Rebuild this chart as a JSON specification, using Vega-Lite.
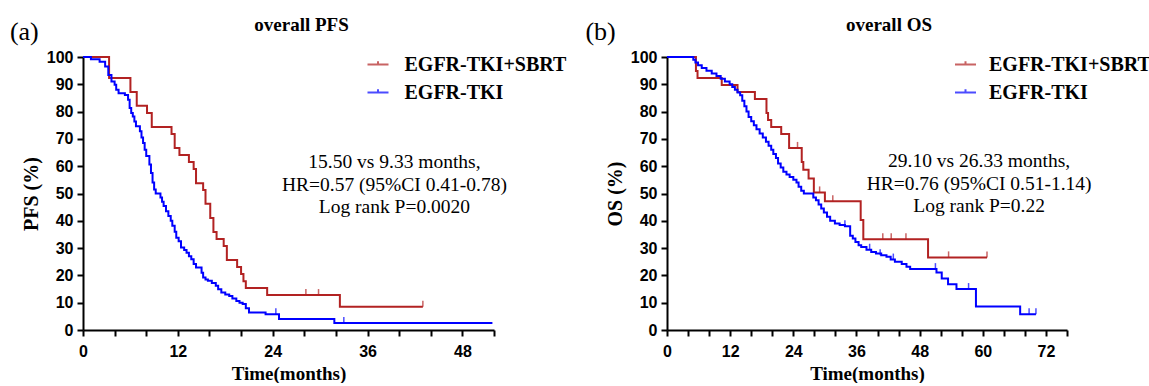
{
  "$schema": "https://vega.github.io/schema/vega-lite/v6.json",
  "background": "white",
  "padding": {"left": 9, "top": 15, "right": 0, "bottom": 0},
  "bounds": "flush",
  "spacing": 173,
  "config": {
    "view": {"stroke": null},
    "axis": {
      "grid": false,
      "domainColor": "black", "domainWidth": 2,
      "tickColor": "black", "tickWidth": 2, "tickSize": 6,
      "labelFont": "Liberation Sans", "labelFontWeight": "bold", "labelFontSize": 16, "labelColor": "black",
      "labelOverlap": false,
      "titleFont": "Liberation Serif", "titleFontWeight": "bold", "titleFontSize": 20, "titleColor": "black"
    },
    "axisX": {"labelPadding": 7, "titlePadding": 5, "titleFontSize": 19, "labelFlush": false},
    "axisY": {"labelPadding": 4, "titlePadding": 5},
    "title": {"font": "Liberation Serif", "fontWeight": "bold", "fontSize": 19, "color": "black", "frame": "group", "baseline": "alphabetic", "offset": -16},
    "legend": {
      "orient": "none", "title": null, "padding": 0,
      "symbolType": "M-1,0H1M0,0V-0.3", "symbolSize": 441, "symbolStrokeWidth": 2,
      "labelFont": "Liberation Serif", "labelFontWeight": "bold", "labelFontSize": 20, "labelColor": "black",
      "rowPadding": 6, "labelLimit": 400
    }
  },
  "datasets": {
    "pfs": [
      {"g": "EGFR-TKI+SBRT", "t": 0, "s": 100},
      {"g": "EGFR-TKI+SBRT", "t": 3.3, "s": 92.3},
      {"g": "EGFR-TKI+SBRT", "t": 6.0, "s": 87.2},
      {"g": "EGFR-TKI+SBRT", "t": 6.8, "s": 82.1},
      {"g": "EGFR-TKI+SBRT", "t": 8.1, "s": 79.5},
      {"g": "EGFR-TKI+SBRT", "t": 8.7, "s": 74.4},
      {"g": "EGFR-TKI+SBRT", "t": 11.2, "s": 71.8},
      {"g": "EGFR-TKI+SBRT", "t": 11.6, "s": 66.7},
      {"g": "EGFR-TKI+SBRT", "t": 12.2, "s": 64.1},
      {"g": "EGFR-TKI+SBRT", "t": 13.4, "s": 61.5},
      {"g": "EGFR-TKI+SBRT", "t": 14.0, "s": 59.0},
      {"g": "EGFR-TKI+SBRT", "t": 14.3, "s": 53.8},
      {"g": "EGFR-TKI+SBRT", "t": 15.2, "s": 51.3},
      {"g": "EGFR-TKI+SBRT", "t": 15.5, "s": 46.2},
      {"g": "EGFR-TKI+SBRT", "t": 16.1, "s": 41.0},
      {"g": "EGFR-TKI+SBRT", "t": 16.5, "s": 35.9},
      {"g": "EGFR-TKI+SBRT", "t": 16.9, "s": 33.3},
      {"g": "EGFR-TKI+SBRT", "t": 17.8, "s": 30.8},
      {"g": "EGFR-TKI+SBRT", "t": 18.2, "s": 25.6},
      {"g": "EGFR-TKI+SBRT", "t": 19.5, "s": 23.1},
      {"g": "EGFR-TKI+SBRT", "t": 20.0, "s": 20.5},
      {"g": "EGFR-TKI+SBRT", "t": 20.3, "s": 17.9},
      {"g": "EGFR-TKI+SBRT", "t": 20.6, "s": 15.4},
      {"g": "EGFR-TKI+SBRT", "t": 23.3, "s": 12.8},
      {"g": "EGFR-TKI+SBRT", "t": 32.5, "s": 8.5},
      {"g": "EGFR-TKI+SBRT", "t": 43.0, "s": 8.5},
      {"g": "EGFR-TKI", "t": 0, "s": 100},
      {"g": "EGFR-TKI", "t": 1.0, "s": 99.2},
      {"g": "EGFR-TKI", "t": 2.1, "s": 98.3},
      {"g": "EGFR-TKI", "t": 2.8, "s": 96.5},
      {"g": "EGFR-TKI", "t": 3.2, "s": 93.4},
      {"g": "EGFR-TKI", "t": 3.6, "s": 91.0},
      {"g": "EGFR-TKI", "t": 4.0, "s": 89.8},
      {"g": "EGFR-TKI", "t": 4.2, "s": 88.0},
      {"g": "EGFR-TKI", "t": 4.5, "s": 86.7},
      {"g": "EGFR-TKI", "t": 5.3, "s": 86.1},
      {"g": "EGFR-TKI", "t": 5.7, "s": 84.3},
      {"g": "EGFR-TKI", "t": 5.9, "s": 81.3},
      {"g": "EGFR-TKI", "t": 6.1, "s": 79.5},
      {"g": "EGFR-TKI", "t": 6.3, "s": 78.2},
      {"g": "EGFR-TKI", "t": 6.5, "s": 76.4},
      {"g": "EGFR-TKI", "t": 6.7, "s": 74.6},
      {"g": "EGFR-TKI", "t": 7.2, "s": 72.8},
      {"g": "EGFR-TKI", "t": 7.4, "s": 70.5},
      {"g": "EGFR-TKI", "t": 7.6, "s": 68.5},
      {"g": "EGFR-TKI", "t": 7.8, "s": 66.0},
      {"g": "EGFR-TKI", "t": 8.0, "s": 63.7},
      {"g": "EGFR-TKI", "t": 8.4, "s": 60.6},
      {"g": "EGFR-TKI", "t": 8.6, "s": 57.5},
      {"g": "EGFR-TKI", "t": 8.8, "s": 54.0},
      {"g": "EGFR-TKI", "t": 9.0, "s": 51.5},
      {"g": "EGFR-TKI", "t": 9.2, "s": 50.0},
      {"g": "EGFR-TKI", "t": 9.8, "s": 48.5},
      {"g": "EGFR-TKI", "t": 10.0, "s": 47.0},
      {"g": "EGFR-TKI", "t": 10.2, "s": 45.4},
      {"g": "EGFR-TKI", "t": 10.5, "s": 43.5},
      {"g": "EGFR-TKI", "t": 10.8, "s": 41.8},
      {"g": "EGFR-TKI", "t": 11.1, "s": 40.0},
      {"g": "EGFR-TKI", "t": 11.3, "s": 38.2},
      {"g": "EGFR-TKI", "t": 11.6, "s": 36.0},
      {"g": "EGFR-TKI", "t": 11.8, "s": 33.8},
      {"g": "EGFR-TKI", "t": 12.1, "s": 32.5},
      {"g": "EGFR-TKI", "t": 12.4, "s": 30.2},
      {"g": "EGFR-TKI", "t": 12.8, "s": 29.3},
      {"g": "EGFR-TKI", "t": 13.1, "s": 28.3},
      {"g": "EGFR-TKI", "t": 13.4, "s": 27.0},
      {"g": "EGFR-TKI", "t": 13.7, "s": 25.9},
      {"g": "EGFR-TKI", "t": 14.0, "s": 24.2},
      {"g": "EGFR-TKI", "t": 14.3, "s": 22.9},
      {"g": "EGFR-TKI", "t": 15.0, "s": 21.0},
      {"g": "EGFR-TKI", "t": 15.2, "s": 19.2},
      {"g": "EGFR-TKI", "t": 15.5, "s": 18.5},
      {"g": "EGFR-TKI", "t": 15.8, "s": 18.0},
      {"g": "EGFR-TKI", "t": 16.3, "s": 17.2},
      {"g": "EGFR-TKI", "t": 16.8, "s": 16.2},
      {"g": "EGFR-TKI", "t": 17.1, "s": 14.9},
      {"g": "EGFR-TKI", "t": 17.5, "s": 13.7},
      {"g": "EGFR-TKI", "t": 18.0, "s": 13.0},
      {"g": "EGFR-TKI", "t": 18.5, "s": 12.5},
      {"g": "EGFR-TKI", "t": 18.9, "s": 11.5},
      {"g": "EGFR-TKI", "t": 19.4, "s": 10.6},
      {"g": "EGFR-TKI", "t": 19.8, "s": 10.0},
      {"g": "EGFR-TKI", "t": 20.2, "s": 9.5},
      {"g": "EGFR-TKI", "t": 20.6, "s": 8.0},
      {"g": "EGFR-TKI", "t": 21.0, "s": 6.4},
      {"g": "EGFR-TKI", "t": 23.1, "s": 5.8},
      {"g": "EGFR-TKI", "t": 24.8, "s": 4.0},
      {"g": "EGFR-TKI", "t": 31.8, "s": 2.6},
      {"g": "EGFR-TKI", "t": 51.8, "s": 2.6}
    ],
    "pfsCensor": [
      {"g": "EGFR-TKI+SBRT", "t": 28.2, "s": 12.8},
      {"g": "EGFR-TKI+SBRT", "t": 29.8, "s": 12.8},
      {"g": "EGFR-TKI+SBRT", "t": 43.0, "s": 8.5},
      {"g": "EGFR-TKI", "t": 24.4, "s": 5.8},
      {"g": "EGFR-TKI", "t": 33.0, "s": 2.6}
    ],
    "os": [
      {"g": "EGFR-TKI+SBRT", "t": 0, "s": 100},
      {"g": "EGFR-TKI+SBRT", "t": 5.5, "s": 94.9},
      {"g": "EGFR-TKI+SBRT", "t": 5.8, "s": 92.3},
      {"g": "EGFR-TKI+SBRT", "t": 10.4, "s": 89.7},
      {"g": "EGFR-TKI+SBRT", "t": 13.4, "s": 87.2},
      {"g": "EGFR-TKI+SBRT", "t": 16.7, "s": 84.6},
      {"g": "EGFR-TKI+SBRT", "t": 18.9, "s": 79.5},
      {"g": "EGFR-TKI+SBRT", "t": 19.2, "s": 76.9},
      {"g": "EGFR-TKI+SBRT", "t": 19.8, "s": 74.4},
      {"g": "EGFR-TKI+SBRT", "t": 21.7, "s": 71.8},
      {"g": "EGFR-TKI+SBRT", "t": 23.2, "s": 66.7},
      {"g": "EGFR-TKI+SBRT", "t": 25.6, "s": 61.5},
      {"g": "EGFR-TKI+SBRT", "t": 25.9, "s": 58.7},
      {"g": "EGFR-TKI+SBRT", "t": 26.9, "s": 55.5},
      {"g": "EGFR-TKI+SBRT", "t": 27.9, "s": 50.4},
      {"g": "EGFR-TKI+SBRT", "t": 30.0, "s": 47.2},
      {"g": "EGFR-TKI+SBRT", "t": 36.8, "s": 40.3},
      {"g": "EGFR-TKI+SBRT", "t": 37.3, "s": 33.2},
      {"g": "EGFR-TKI+SBRT", "t": 49.6, "s": 26.6},
      {"g": "EGFR-TKI+SBRT", "t": 60.8, "s": 26.6},
      {"g": "EGFR-TKI", "t": 0, "s": 100},
      {"g": "EGFR-TKI", "t": 5.0, "s": 99.0},
      {"g": "EGFR-TKI", "t": 5.4, "s": 98.0},
      {"g": "EGFR-TKI", "t": 5.9, "s": 97.0},
      {"g": "EGFR-TKI", "t": 6.6, "s": 96.0},
      {"g": "EGFR-TKI", "t": 7.5, "s": 95.0},
      {"g": "EGFR-TKI", "t": 8.5, "s": 94.0},
      {"g": "EGFR-TKI", "t": 9.4, "s": 93.0},
      {"g": "EGFR-TKI", "t": 10.2, "s": 92.0},
      {"g": "EGFR-TKI", "t": 11.0, "s": 91.0},
      {"g": "EGFR-TKI", "t": 11.9, "s": 90.0},
      {"g": "EGFR-TKI", "t": 12.4, "s": 89.0},
      {"g": "EGFR-TKI", "t": 12.9, "s": 88.0},
      {"g": "EGFR-TKI", "t": 13.4, "s": 87.0},
      {"g": "EGFR-TKI", "t": 13.9, "s": 86.0},
      {"g": "EGFR-TKI", "t": 14.3, "s": 84.0},
      {"g": "EGFR-TKI", "t": 14.7, "s": 82.0},
      {"g": "EGFR-TKI", "t": 15.1, "s": 80.0},
      {"g": "EGFR-TKI", "t": 15.5, "s": 78.0},
      {"g": "EGFR-TKI", "t": 16.0, "s": 76.5},
      {"g": "EGFR-TKI", "t": 16.5, "s": 75.0},
      {"g": "EGFR-TKI", "t": 17.0, "s": 73.5},
      {"g": "EGFR-TKI", "t": 17.6, "s": 72.0},
      {"g": "EGFR-TKI", "t": 18.2, "s": 70.5},
      {"g": "EGFR-TKI", "t": 18.8, "s": 69.0},
      {"g": "EGFR-TKI", "t": 19.3, "s": 67.5},
      {"g": "EGFR-TKI", "t": 19.8, "s": 66.0},
      {"g": "EGFR-TKI", "t": 20.2, "s": 64.5},
      {"g": "EGFR-TKI", "t": 20.7, "s": 63.0},
      {"g": "EGFR-TKI", "t": 21.1, "s": 61.0},
      {"g": "EGFR-TKI", "t": 21.6, "s": 59.5},
      {"g": "EGFR-TKI", "t": 22.1, "s": 58.0},
      {"g": "EGFR-TKI", "t": 22.7, "s": 57.0},
      {"g": "EGFR-TKI", "t": 23.3, "s": 56.0},
      {"g": "EGFR-TKI", "t": 24.0, "s": 55.0},
      {"g": "EGFR-TKI", "t": 24.6, "s": 54.0},
      {"g": "EGFR-TKI", "t": 25.0, "s": 52.5},
      {"g": "EGFR-TKI", "t": 25.5, "s": 51.0},
      {"g": "EGFR-TKI", "t": 26.0, "s": 50.0},
      {"g": "EGFR-TKI", "t": 27.8, "s": 48.5},
      {"g": "EGFR-TKI", "t": 28.3, "s": 47.5},
      {"g": "EGFR-TKI", "t": 28.8, "s": 46.0},
      {"g": "EGFR-TKI", "t": 29.3, "s": 44.5},
      {"g": "EGFR-TKI", "t": 29.8, "s": 43.0},
      {"g": "EGFR-TKI", "t": 30.4, "s": 41.5},
      {"g": "EGFR-TKI", "t": 31.0, "s": 40.0},
      {"g": "EGFR-TKI", "t": 31.9, "s": 39.0},
      {"g": "EGFR-TKI", "t": 32.8, "s": 38.5},
      {"g": "EGFR-TKI", "t": 33.8, "s": 38.0},
      {"g": "EGFR-TKI", "t": 34.8, "s": 34.5},
      {"g": "EGFR-TKI", "t": 35.3, "s": 33.5},
      {"g": "EGFR-TKI", "t": 35.8, "s": 32.2},
      {"g": "EGFR-TKI", "t": 36.4, "s": 31.0},
      {"g": "EGFR-TKI", "t": 36.9, "s": 30.4},
      {"g": "EGFR-TKI", "t": 37.9, "s": 29.4},
      {"g": "EGFR-TKI", "t": 38.8, "s": 28.6},
      {"g": "EGFR-TKI", "t": 39.7, "s": 28.0},
      {"g": "EGFR-TKI", "t": 40.7, "s": 27.4},
      {"g": "EGFR-TKI", "t": 41.7, "s": 26.8},
      {"g": "EGFR-TKI", "t": 42.5, "s": 25.8},
      {"g": "EGFR-TKI", "t": 43.3, "s": 25.0},
      {"g": "EGFR-TKI", "t": 44.6, "s": 24.2},
      {"g": "EGFR-TKI", "t": 45.5, "s": 23.2},
      {"g": "EGFR-TKI", "t": 46.2, "s": 22.3},
      {"g": "EGFR-TKI", "t": 51.2, "s": 21.1},
      {"g": "EGFR-TKI", "t": 52.2, "s": 18.9},
      {"g": "EGFR-TKI", "t": 53.4, "s": 16.8},
      {"g": "EGFR-TKI", "t": 55.0, "s": 15.0},
      {"g": "EGFR-TKI", "t": 58.7, "s": 8.6},
      {"g": "EGFR-TKI", "t": 67.1, "s": 5.8},
      {"g": "EGFR-TKI", "t": 70.1, "s": 5.8}
    ],
    "osCensor": [
      {"g": "EGFR-TKI+SBRT", "t": 24.8, "s": 66.7},
      {"g": "EGFR-TKI+SBRT", "t": 29.0, "s": 50.4},
      {"g": "EGFR-TKI+SBRT", "t": 31.5, "s": 47.2},
      {"g": "EGFR-TKI+SBRT", "t": 41.0, "s": 33.2},
      {"g": "EGFR-TKI+SBRT", "t": 42.6, "s": 33.2},
      {"g": "EGFR-TKI+SBRT", "t": 45.4, "s": 33.2},
      {"g": "EGFR-TKI+SBRT", "t": 53.5, "s": 26.6},
      {"g": "EGFR-TKI+SBRT", "t": 60.8, "s": 26.6},
      {"g": "EGFR-TKI", "t": 33.8, "s": 38.0},
      {"g": "EGFR-TKI", "t": 38.5, "s": 29.4},
      {"g": "EGFR-TKI", "t": 40.5, "s": 27.4},
      {"g": "EGFR-TKI", "t": 43.0, "s": 25.8},
      {"g": "EGFR-TKI", "t": 51.0, "s": 22.3},
      {"g": "EGFR-TKI", "t": 57.3, "s": 15.0},
      {"g": "EGFR-TKI", "t": 68.8, "s": 5.8},
      {"g": "EGFR-TKI", "t": 70.1, "s": 5.8}
    ],
    "notes": [
      {"panel": "a", "t": 39.4, "s": 61.4, "label": ["15.50 vs 9.33 months,", "HR=0.57 (95%CI 0.41-0.78)", "Log rank P=0.0020"]},
      {"panel": "b", "t": 59.3, "s": 61.9, "label": ["29.10 vs 26.33 months,", "HR=0.76 (95%CI 0.51-1.14)", "Log rank P=0.22"]}
    ],
    "tags": [
      {"panel": "a", "t": -9.25, "s": 109.3, "label": "(a)"},
      {"panel": "b", "t": -15.5, "s": 109.3, "label": "(b)"}
    ]
  },
  "hconcat": [
    {
      "width": 411,
      "height": 273,
      "title": {"text": "overall PFS", "dx": 13},
      "encoding": {
        "x": {"field": "t", "type": "quantitative", "scale": {"domain": [0, 52], "nice": false},
              "axis": {"title": "Time(months)", "labelOverlap": false, "values": [0, 4, 8, 12, 16, 20, 24, 28, 32, 36, 40, 44, 48, 52], "labelExpr": "datum.value % 12 === 0 ? datum.label : ''"}},
        "y": {"field": "s", "type": "quantitative", "scale": {"domain": [0, 100], "nice": false},
              "axis": {"title": "PFS (%)", "labelOverlap": false, "values": [0, 10, 20, 30, 40, 50, 60, 70, 80, 90, 100]}}
      },
      "layer": [
        {
          "data": {"name": "pfs"},
          "mark": {"type": "line", "interpolate": "step-after", "strokeWidth": 2},
          "encoding": {
            "color": {"field": "g", "type": "nominal",
                      "scale": {"domain": ["EGFR-TKI+SBRT", "EGFR-TKI"], "range": ["#B22222", "#0000FF"]},
                      "legend": {"legendX": 283.5, "legendY": -4, "labelOffset": 15}}
          }
        },
        {
          "data": {"name": "pfsCensor"},
          "mark": {"type": "tick", "orient": "vertical", "size": 6, "thickness": 1.5, "yOffset": -3},
          "encoding": {
            "color": {"field": "g", "type": "nominal", "legend": {"legendX": 283.5, "legendY": -4, "labelOffset": 15}}
          }
        },
        {
          "data": {"name": "notes"},
          "transform": [{"filter": "datum.panel === 'a'"}],
          "mark": {"type": "text", "font": "Liberation Serif", "fontSize": 19.5, "lineHeight": 22.5, "align": "center", "baseline": "middle", "color": "black"},
          "encoding": {"text": {"field": "label"}}
        },
        {
          "data": {"name": "tags"},
          "transform": [{"filter": "datum.panel === 'a'"}],
          "mark": {"type": "text", "font": "Liberation Serif", "fontSize": 26, "align": "left", "baseline": "middle", "color": "black"},
          "encoding": {"text": {"field": "label"}}
        }
      ]
    },
    {
      "width": 400,
      "height": 273,
      "title": {"text": "overall OS", "dx": 22},
      "encoding": {
        "x": {"field": "t", "type": "quantitative", "scale": {"domain": [0, 76], "nice": false},
              "axis": {"title": "Time(months)", "labelOverlap": false, "values": [0, 4, 8, 12, 16, 20, 24, 28, 32, 36, 40, 44, 48, 52, 56, 60, 64, 68, 72, 76], "labelExpr": "datum.value % 12 === 0 ? datum.label : ''"}},
        "y": {"field": "s", "type": "quantitative", "scale": {"domain": [0, 100], "nice": false},
              "axis": {"title": "OS (%)", "labelOverlap": false, "values": [0, 10, 20, 30, 40, 50, 60, 70, 80, 90, 100]}}
      },
      "layer": [
        {
          "data": {"name": "os"},
          "mark": {"type": "line", "interpolate": "step-after", "strokeWidth": 2},
          "encoding": {
            "color": {"field": "g", "type": "nominal",
                      "scale": {"domain": ["EGFR-TKI+SBRT", "EGFR-TKI"], "range": ["#B22222", "#0000FF"]},
                      "legend": {"legendX": 287, "legendY": -4, "labelOffset": 12}}
          }
        },
        {
          "data": {"name": "osCensor"},
          "mark": {"type": "tick", "orient": "vertical", "size": 6, "thickness": 1.5, "yOffset": -3},
          "encoding": {
            "color": {"field": "g", "type": "nominal", "legend": {"legendX": 287, "legendY": -4, "labelOffset": 12}}
          }
        },
        {
          "data": {"name": "notes"},
          "transform": [{"filter": "datum.panel === 'b'"}],
          "mark": {"type": "text", "font": "Liberation Serif", "fontSize": 19.5, "lineHeight": 22.5, "align": "center", "baseline": "middle", "color": "black"},
          "encoding": {"text": {"field": "label"}}
        },
        {
          "data": {"name": "tags"},
          "transform": [{"filter": "datum.panel === 'b'"}],
          "mark": {"type": "text", "font": "Liberation Serif", "fontSize": 26, "align": "left", "baseline": "middle", "color": "black"},
          "encoding": {"text": {"field": "label"}}
        }
      ]
    }
  ],
  "resolve": {"scale": {"color": "independent"}}
}
